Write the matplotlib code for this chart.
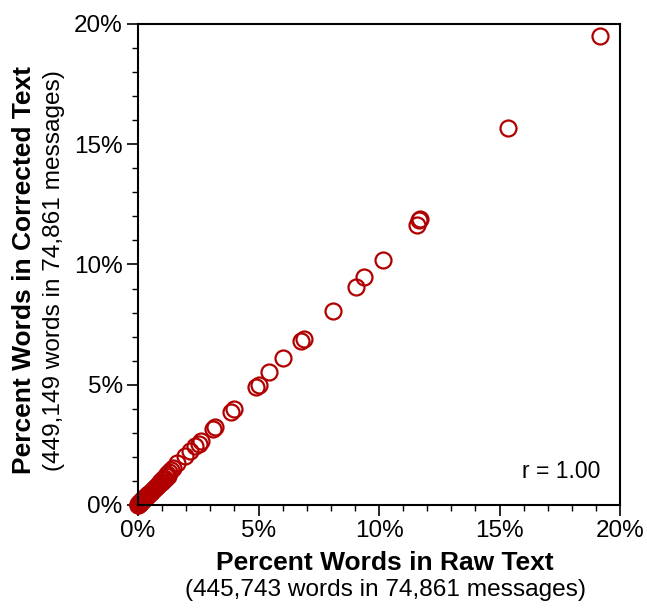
import matplotlib.pyplot as plt
from matplotlib.ticker import MultipleLocator, FuncFormatter

plt.rcParams['font.family'] = ['Liberation Sans', 'DejaVu Sans']

# percent of words, raw text vs corrected text
raw_pct = [19.17, 15.35, 11.66, 11.72, 11.58, 10.17, 9.38, 9.05, 8.09,
           6.89, 6.78, 6.02, 5.44, 5.02, 4.90, 3.98, 3.85, 3.20, 3.12,
           2.60, 2.52, 2.38, 2.16, 1.95, 1.62, 1.45, 1.38, 1.30, 1.22,
           1.15, 1.08, 1.02, 0.96, 0.91, 0.86, 0.81, 0.77, 0.73, 0.69,
           0.65, 0.61, 0.58, 0.55, 0.52, 0.49, 0.46, 0.43, 0.40, 0.37,
           0.35, 0.32, 0.30, 0.28, 0.26, 0.24, 0.22, 0.20, 0.18, 0.16,
           0.14, 0.12, 0.10, 0.09, 0.08, 0.07, 0.06, 0.05, 0.04, 0.03,
           0.02, 0.01, 0.00, 1.25, 1.10, 0.98, 0.88, 0.79, 0.70]
corr_pct = [19.50, 15.68, 11.83, 11.90, 11.66, 10.17, 9.46, 9.05, 8.05,
            6.89, 6.80, 6.10, 5.52, 4.98, 4.90, 4.00, 3.85, 3.24, 3.15,
            2.65, 2.55, 2.45, 2.26, 2.03, 1.74, 1.55, 1.45, 1.36, 1.28,
            1.20, 1.12, 1.06, 0.99, 0.94, 0.89, 0.84, 0.79, 0.75, 0.71,
            0.67, 0.63, 0.60, 0.56, 0.53, 0.50, 0.47, 0.44, 0.41, 0.38,
            0.36, 0.33, 0.31, 0.29, 0.27, 0.25, 0.23, 0.21, 0.19, 0.17,
            0.15, 0.13, 0.11, 0.10, 0.09, 0.08, 0.07, 0.06, 0.05, 0.04,
            0.03, 0.02, 0.01, 1.22, 1.10, 0.96, 0.86, 0.80, 0.70]

fig = plt.figure(figsize=(6.47, 6.09), dpi=100)
ax = fig.add_axes([0.2133, 0.1708, 0.745, 0.7898])

ax.plot(raw_pct, corr_pct, 'o', markersize=11.5, markerfacecolor='none',
        markeredgecolor='#b00000', markeredgewidth=1.6, clip_on=False)

ax.set_xlim(0, 20)
ax.set_ylim(0, 20)
pct = FuncFormatter(lambda v, p: f'{v:.0f}%')
for axis in (ax.xaxis, ax.yaxis):
    axis.set_major_locator(MultipleLocator(5))
    axis.set_minor_locator(MultipleLocator(1))
    axis.set_major_formatter(pct)
ax.tick_params(which='major', length=8, width=1.2, labelsize=17.5,
               direction='out', pad=3)
ax.tick_params(which='minor', length=4, width=1.0, direction='out')
ax.tick_params(top=False, right=False)
for s in ax.spines.values():
    s.set_linewidth(1.5)

ax.text(0.96, 0.07, 'r = 1.00', transform=ax.transAxes, ha='right',
        va='center', fontsize=16.5)

fig.text(0.595, 0.0755, 'Percent Words in Raw Text', ha='center', va='center',
         fontsize=19, fontweight='bold')
fig.text(0.596, 0.031, '(445,743 words in 74,861 messages)', ha='center',
         va='center', fontsize=17.6)
fig.text(0.037, 0.557, 'Percent Words in Corrected Text', ha='center',
         va='center', rotation=90, fontsize=19, fontweight='bold')
fig.text(0.084, 0.555, '(449,149 words in 74,861 messages)', ha='center',
         va='center', rotation=90, fontsize=17.6)

fig.savefig('out.png', dpi=100)
